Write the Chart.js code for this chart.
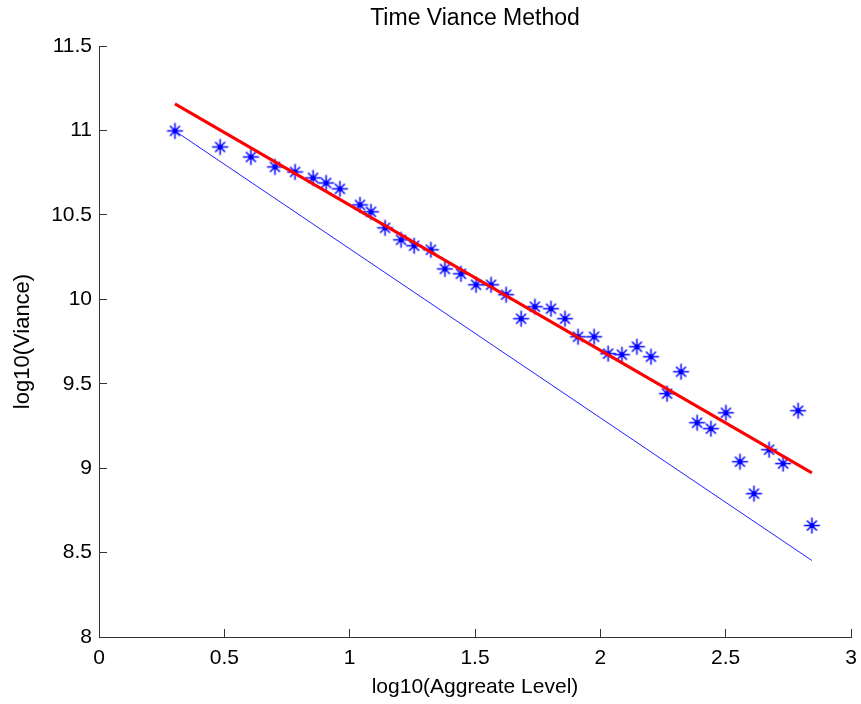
<!DOCTYPE html>
<html>
<head>
<meta charset="utf-8">
<script src="https://cdn.jsdelivr.net/npm/chart.js@4/dist/chart.umd.min.js"></script>
<style>
  html, body { margin: 0; padding: 0; background: #fff; overflow: hidden; }
  canvas { display: block; }
</style>
</head>
<body>
<canvas id="c" width="861" height="704"></canvas>
<script>
// ---- data ----
const aggLevelLog = [0.303,0.483,0.606,0.702,0.782,0.854,0.906,0.961,1.041,1.085,
                     1.141,1.205,1.257,1.324,1.380,1.444,1.504,1.564,1.624,1.684,
                     1.739,1.803,1.859,1.911,1.975,2.031,2.086,2.146,2.202,2.266,
                     2.322,2.386,2.441,2.501,2.557,2.613,2.673,2.729,2.789,2.844];
const varianceLog = [10.997,10.902,10.843,10.784,10.754,10.719,10.689,10.654,10.559,10.518,
                     10.423,10.352,10.317,10.293,10.180,10.151,10.086,10.086,10.027,9.885,
                     9.956,9.944,9.885,9.778,9.778,9.678,9.672,9.719,9.660,9.441,
                     9.571,9.269,9.234,9.328,9.038,8.849,9.109,9.027,9.340,8.660];
const fitX = [0.303, 2.844];
const fitY = [11.157, 8.972];
const refX = [0.303, 2.844];
const refY = [10.997, 8.453];
const xTicks = [0, 0.5, 1, 1.5, 2, 2.5, 3];
const yTicks = [8, 8.5, 9, 9.5, 10, 10.5, 11, 11.5];
const titleText = 'Time Viance Method';
const xLabel = 'log10(Aggreate Level)';
const yLabel = 'log10(Viance)';

// ---- asterisk marker ----
function makeStar() {
  const s = 19, c = document.createElement('canvas');
  c.width = s; c.height = s;
  const g = c.getContext('2d');
  const m = s / 2;
  g.strokeStyle = '#0000ff';
  g.lineWidth = 1.5;
  g.beginPath();
  g.moveTo(m, m - 8); g.lineTo(m, m + 8);
  g.moveTo(m - 8, m); g.lineTo(m + 8, m);
  const d = 5;
  g.moveTo(m - d, m - d); g.lineTo(m + d, m + d);
  g.moveTo(m - d, m + d); g.lineTo(m + d, m - d);
  g.stroke();
  g.fillStyle = '#0000ff';
  g.beginPath(); g.arc(m, m, 2.6, 0, Math.PI * 2); g.fill();
  return c;
}

const toXY = (xs, ys) => xs.map((x, i) => ({x: x, y: ys[i]}));
const FONT = "'Liberation Sans', Arial, sans-serif";
const fmt = v => String(+Number(v).toFixed(2));

// title centred over the axes (like MATLAB)
const axesTitle = {
  id: 'axesTitle',
  afterDraw(chart) {
    const {ctx, chartArea} = chart;
    ctx.save();
    ctx.fillStyle = '#000';
    ctx.font = "23px " + FONT;
    ctx.textAlign = 'center';
    ctx.textBaseline = 'middle';
    ctx.fillText(titleText, (chartArea.left + chartArea.right) / 2, 19);
    ctx.restore();
  }
};

new Chart(document.getElementById('c'), {
  type: 'scatter',
  data: {
    datasets: [
      { label: 'fit', data: toXY(fitX, fitY), showLine: true, borderColor: '#ff0000',
        borderWidth: 3, pointRadius: 0, order: 0 },
      { label: 'data', data: toXY(aggLevelLog, varianceLog), showLine: false,
        pointStyle: makeStar(), pointRadius: 9, order: 1 },
      { label: 'ref', data: toXY(refX, refY), showLine: true, borderColor: '#2020ff',
        borderWidth: 1, pointRadius: 0, order: 2 }
    ]
  },
  plugins: [axesTitle],
  options: {
    responsive: false,
    animation: false,
    events: [],
    layout: { padding: { left: 0, right: 10, top: 46, bottom: 0 } },
    plugins: {
      legend: { display: false },
      tooltip: { enabled: false },
      title: { display: false }
    },
    scales: {
      x: {
        type: 'linear', min: 0, max: 3,
        afterBuildTicks: s => { s.ticks = xTicks.map(v => ({value: v})); },
        afterFit: s => { s.height = 67; s.paddingLeft = 0; s.paddingRight = 0; },
        ticks: { color: '#000', font: { family: FONT, size: 21 }, padding: 16.4, maxRotation: 0,
                 callback: v => fmt(v) },
        grid: { drawOnChartArea: false, drawTicks: true, tickLength: -8, color: '#333', tickColor: '#333' },
        border: { display: true, color: '#333', width: 1 },
        title: { display: true, text: xLabel, color: '#000',
                 font: { family: FONT, size: 21 }, padding: { top: 0, bottom: 4.4 } }
      },
      y: {
        type: 'linear', min: 8, max: 11.5,
        afterBuildTicks: s => { s.ticks = yTicks.map(v => ({value: v})); },
        afterFit: s => { s.width = 99; s.paddingTop = 0; s.paddingBottom = 0; },
        ticks: { color: '#000', font: { family: FONT, size: 21 }, padding: 15,
                 callback: v => fmt(v) },
        grid: { drawOnChartArea: false, drawTicks: true, tickLength: -8, color: '#333', tickColor: '#333' },
        border: { display: true, color: '#333', width: 1 },
        title: { display: true, text: yLabel, color: '#000',
                 font: { family: FONT, size: 22 }, padding: { top: 9.3, bottom: 0 } }
      }
    }
  }
});
</script>
</body>
</html>
